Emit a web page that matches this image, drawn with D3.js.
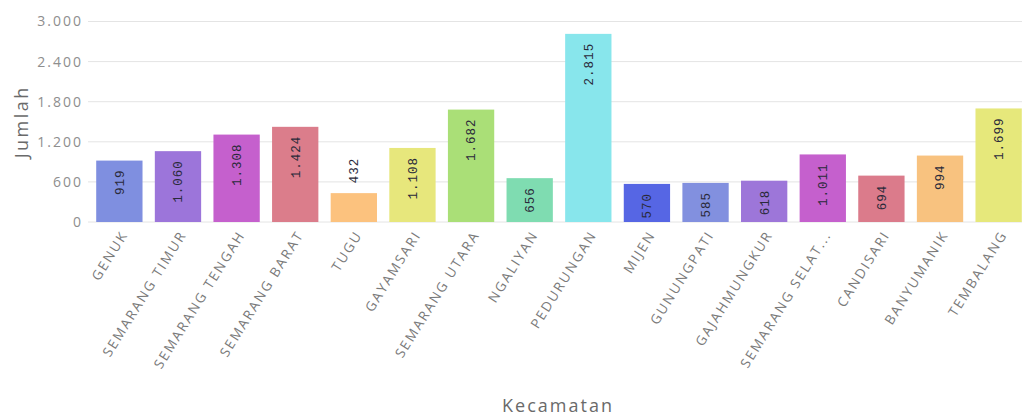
<!DOCTYPE html>
<html>
<head>
<meta charset="utf-8">
<script src="https://cdn.jsdelivr.net/npm/d3@7/dist/d3.min.js"></script>
<style>
  html, body { margin: 0; padding: 0; background: #fff; }
  svg { display: block; }
</style>
</head>
<body>
<svg id="chart" width="1027" height="418"></svg>
<script>
const categories = ["GENUK", "SEMARANG TIMUR", "SEMARANG TENGAH", "SEMARANG BARAT", "TUGU", "GAYAMSARI",
  "SEMARANG UTARA", "NGALIYAN", "PEDURUNGAN", "MIJEN", "GUNUNGPATI", "GAJAHMUNGKUR",
  "SEMARANG SELAT...", "CANDISARI", "BANYUMANIK", "TEMBALANG"];
const values = [919, 1060, 1308, 1424, 432, 1108, 1682, 656, 2815, 570, 585, 618, 1011, 694, 994, 1699];
const colors = ["#7f8fe0", "#9c75da", "#c560cd", "#db7d8b", "#fcc27e", "#e7e77c", "#aadf77", "#7fdcb1",
  "#88e6ec", "#5666e4", "#8290df", "#9d76d9", "#c560cd", "#db7b8b", "#f8c27f", "#e6e87b"];
const yTicks = [0, 600, 1200, 1800, 2400, 3000];
const yTitle = "Jumlah";
const xTitle = "Kecamatan";

(function () {
const svg = d3.select("#chart");
const pLeft = 88, pRight = 1022, pTop = 21.5, pBottom = 222;

const fmt = d3.formatLocale({decimal: ",", thousands: ".", grouping: [3], currency: ["", ""]}).format(",d");

const x = d3.scaleBand().domain(categories).range([88, 1030]).paddingInner(0.21).paddingOuter(0.14);
const y = d3.scaleLinear().domain([0, 3000]).range([pBottom, pTop]);

// gridlines
svg.append("g").selectAll("line").data(yTicks).join("line")
  .attr("x1", pLeft).attr("x2", pRight)
  .attr("y1", d => y(d)).attr("y2", d => y(d))
  .attr("stroke", "#e4e4e4").attr("stroke-width", 1);

// y axis labels
const yAxis = d3.axisLeft(y).tickValues(yTicks).tickSize(0).tickPadding(5).tickFormat(fmt);
const gy = svg.append("g").attr("transform", `translate(${pLeft},0)`).call(yAxis);
gy.select(".domain").remove();
gy.selectAll("text").attr("fill", "#8e8e8e")
  .style("font-family", "'Open Sans', sans-serif").style("font-size", "14px").style("letter-spacing", "2px");

// bars
svg.append("g").selectAll("rect").data(values).join("rect")
  .attr("x", (d, i) => x(categories[i]))
  .attr("width", x.bandwidth())
  .attr("y", d => y(d))
  .attr("height", d => pBottom - y(d))
  .attr("fill", (d, i) => colors[i]);

// value labels
const labelFont = "'Liberation Mono', 'DejaVu Sans Mono', monospace";
svg.append("g").selectAll("text").data(values).join("text")
  .each(function(d, i) {
    const cx = x(categories[i]) + x.bandwidth() / 2;
    const topY = y(d);
    const str = fmt(d);
    const h = pBottom - topY;
    const sel = d3.select(this);
    sel.text(str)
      .style("font-family", labelFont)
      .style("font-size", "12.5px")
      .style("letter-spacing", "1px")
      .attr("fill", "#2a2a3a")
      .attr("dy", "0.35em");
    if (h >= 37) {
      sel.attr("text-anchor", "end").attr("transform", `translate(${cx},${topY + 9}) rotate(-90)`);
    } else {
      sel.attr("text-anchor", "start").attr("transform", `translate(${cx},${topY - 10}) rotate(-90)`);
    }
  });

// x axis labels
const xAxis = d3.axisBottom(x).tickSize(0).tickPadding(0);
const gx = svg.append("g").attr("transform", `translate(0,${pBottom})`).call(xAxis);
gx.select(".domain").remove();
gx.selectAll("text")
  .attr("text-anchor", "end")
  .attr("dy", "0.35em")
  .attr("y", 0)
  .attr("transform", "translate(5,10) rotate(-58)")
  .attr("fill", "#7a7a7a")
  .style("font-family", "'Open Sans', sans-serif")
  .style("font-size", "13.5px")
  .style("letter-spacing", "2px");

// titles
svg.append("text").text(yTitle)
  .attr("transform", `translate(28,${(pTop + pBottom) / 2}) rotate(-90)`)
  .attr("text-anchor", "middle")
  .attr("fill", "#6a6a6a")
  .style("font-family", "'Open Sans', sans-serif")
  .style("font-size", "18px")
  .style("letter-spacing", "2.5px");

svg.append("text").text(xTitle)
  .attr("x", 558).attr("y", 412)
  .attr("text-anchor", "middle")
  .attr("fill", "#6a6a6a")
  .style("font-family", "'Open Sans', sans-serif")
  .style("font-size", "18px")
  .style("letter-spacing", "2px");
})();
</script>
</body>
</html>
